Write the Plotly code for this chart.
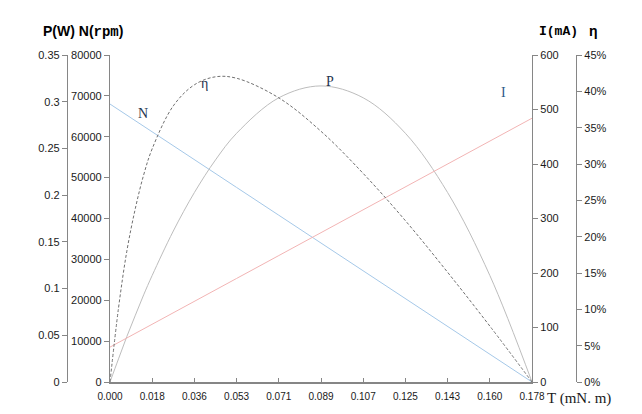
import plotly.graph_objects as go

W, H = 642, 414
OFF = 8  # page body margin

# ---- data ----
torque = [0, 0.0036, 0.0071, 0.0107, 0.0142, 0.0178, 0.0267, 0.0356, 0.0445,
          0.0534, 0.0712, 0.0890, 0.1068, 0.1246, 0.1424, 0.1602, 0.178]
speed_rpm = [68000, 66640, 65280, 63920, 62560, 61200, 57800, 54400, 51000,
             47600, 40800, 34000, 27200, 20400, 13600, 6800, 0]
current_ma = [64, 72.4, 80.8, 89.2, 97.6, 106, 127, 148, 169,
              190, 232, 274, 316, 358, 400, 442, 484]
power_w = [0, 0.0248, 0.0487, 0.0715, 0.0933, 0.1141, 0.1616, 0.2028, 0.2377,
           0.2662, 0.3042, 0.3169, 0.3042, 0.2662, 0.2028, 0.1141, 0]
efficiency_pct = [0, 10.2, 18.0, 23.9, 28.5, 32.1, 38.0, 40.9, 42.0,
                  41.8, 39.1, 34.5, 28.7, 22.2, 15.1, 7.7, 0]

x_tick_vals = [0, 0.0178, 0.0356, 0.0534, 0.0712, 0.089, 0.1068, 0.1246,
               0.1424, 0.1602, 0.178]
x_tick_text = ["0.000", "0.018", "0.036", "0.053", "0.071", "0.089", "0.107",
               "0.125", "0.143", "0.160", "0.178"]


def px(x):
    return (x - OFF) / W


def py(y):
    return 1 - (y - OFF) / H


AX = "#868686"
TXT = "#1a1a1a"
tick_font = dict(family="Liberation Sans, Arial, sans-serif", size=11, color=TXT)

fig = go.Figure()
fig.add_trace(go.Scatter(x=torque, y=speed_rpm, mode="lines", yaxis="y",
                         line=dict(color="#A5C8E8", width=1), name="N"))
fig.add_trace(go.Scatter(x=torque, y=power_w, mode="lines", yaxis="y2",
                         line=dict(color="#BDBDBD", width=1, shape="spline"), name="P"))
fig.add_trace(go.Scatter(x=torque, y=current_ma, mode="lines", yaxis="y3",
                         line=dict(color="#F2B4B4", width=1), name="I"))
fig.add_trace(go.Scatter(x=torque, y=efficiency_pct, mode="lines", yaxis="y4",
                         line=dict(color="#707070", width=1, shape="spline",
                                   dash="3px,2px"), name="η"))

ydom = [py(382), py(55)]
common_y = dict(showgrid=False, zeroline=False, showline=True, linecolor=AX,
                linewidth=1.3, ticks="outside", ticklen=5, tickcolor=AX,
                tickfont=tick_font, automargin=False)

fig.update_layout(
    template="none",
    width=W, height=H,
    margin=dict(l=0, r=0, t=0, b=0, autoexpand=False),
    paper_bgcolor="white", plot_bgcolor="white",
    showlegend=False,
    xaxis=dict(domain=[px(110), px(532)], range=[0, 0.178],
               tickvals=x_tick_vals, ticktext=x_tick_text,
               showgrid=False, zeroline=False, showline=True, linecolor=AX,
               linewidth=2, ticks="inside", ticklen=4, tickcolor=AX,
               ticklabelstandoff=4,
               tickfont=dict(family="Liberation Sans, Arial, sans-serif",
                             size=10, color=TXT), automargin=False),
    yaxis=dict(domain=ydom, range=[0, 80000], dtick=10000, tickformat="d",
               side="left", anchor="x", **common_y),
    yaxis2=dict(domain=ydom, range=[0, 0.35], dtick=0.05, side="left",
                overlaying="y", anchor="free", position=px(67), **common_y),
    yaxis3=dict(domain=ydom, range=[0, 600], dtick=100, side="right",
                overlaying="y", anchor="x", **common_y),
    yaxis4=dict(domain=ydom, range=[0, 45], dtick=5, ticksuffix="%",
                side="right", overlaying="y", anchor="free",
                position=px(576), **common_y),
)

serif = "Liberation Serif, Times New Roman, serif"
annos = [
    dict(text="<b>P(W) N(<span style='font-family:Liberation Mono'>rpm</span>)</b>",
         x=px(41), y=py(31), xanchor="left", yanchor="middle",
         font=dict(family="Liberation Sans, Arial", size=14, color="black")),
    dict(text="<b>I(mA)</b>", x=px(537), y=py(31), xanchor="left", yanchor="middle",
         font=dict(family="Liberation Mono, monospace", size=13, color="black")),
    dict(text="<b>η</b>", x=px(587), y=py(31), xanchor="left", yanchor="middle",
         font=dict(family="Liberation Sans, Arial", size=14, color="black")),
    dict(text="T (mN. m)", x=px(545), y=py(398), xanchor="left", yanchor="middle",
         font=dict(family=serif, size=15, color=TXT)),
    dict(text="N", x=px(143), y=py(113), font=dict(family=serif, size=14, color="#1F3550")),
    dict(text="η", x=px(204), y=py(83), font=dict(family=serif, size=14, color="#1F3550")),
    dict(text="P", x=px(330), y=py(81), font=dict(family=serif, size=14, color="#1F3550")),
    dict(text="I", x=px(503), y=py(92), font=dict(family=serif, size=14, color="#2E5C8A")),
]
for a in annos:
    a.setdefault("xanchor", "center")
    a.setdefault("yanchor", "middle")
    fig.add_annotation(xref="paper", yref="paper", showarrow=False, **a)

fig.write_html("out.html")
